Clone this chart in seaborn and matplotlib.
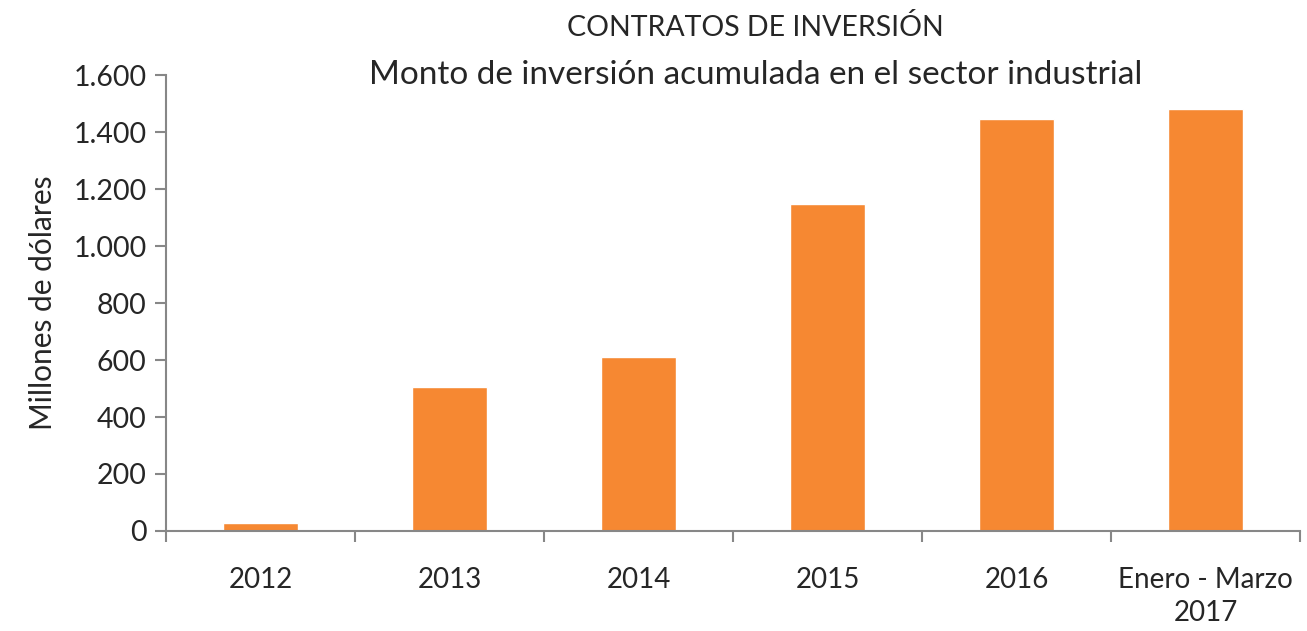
import numpy as np
import pandas as pd
import seaborn as sns
import matplotlib.pyplot as plt
from matplotlib.ticker import FuncFormatter, FixedLocator

# datos
periodos = ['2012', '2013', '2014', '2015', '2016', 'Enero - Marzo\n2017']
monto = [29, 504, 611, 1147, 1445, 1480]

df = pd.DataFrame({'periodo': periodos, 'monto': monto})

sns.set_style('white')
plt.rcParams['font.family'] = ['Lato', 'DejaVu Sans']

gris = '#878787'
fig = plt.figure(figsize=(13.07, 6.31), dpi=100)
ax = fig.add_axes([0.127, 0.1585, 0.8676, 0.7225])

sns.barplot(data=df, x='periodo', y='monto', color='#F68832', width=0.4,
            saturation=1, ax=ax)

ax.set_ylim(0, 1600)
ax.set_xlim(-0.5, len(periodos) - 0.5)
ax.set_yticks(np.arange(0, 1601, 200))
ax.yaxis.set_major_formatter(FuncFormatter(lambda v, p: f'{int(v):,}'.replace(',', '.')))

# marcas del eje x entre categorias
ax.xaxis.set_minor_locator(FixedLocator(np.arange(-0.5, len(periodos), 1)))
ax.tick_params(axis='x', which='major', length=0, pad=26, labelsize=20)
ax.tick_params(axis='x', which='minor', length=8, width=1.5, color=gris, direction='out')
ax.tick_params(axis='y', length=8, width=1.5, color=gris, direction='out', pad=6, labelsize=20.5)
ax.xaxis.set_ticks_position('bottom')
ax.yaxis.set_ticks_position('left')
for lbl in ax.get_xticklabels():
    lbl.set_linespacing(1.35)

sns.despine(ax=ax)
for s in ['left', 'bottom']:
    ax.spines[s].set_color(gris)
    ax.spines[s].set_linewidth(1.5)

ax.set_xlabel('')
ax.set_ylabel('Millones de dólares', fontsize=21.5, labelpad=12)

fig.text(0.578, 0.956, 'CONTRATOS DE INVERSIÓN', ha='center', va='center', fontsize=20.5)
fig.text(0.578, 0.881, 'Monto de inversión acumulada en el sector industrial',
         ha='center', va='center', fontsize=24)

fig.savefig('out.png', dpi=100)
